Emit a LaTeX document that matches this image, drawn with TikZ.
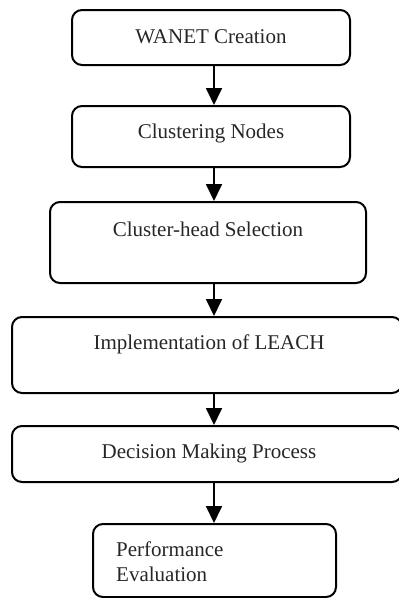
\documentclass[tikz,border=0pt]{standalone}
\usepackage{fontspec}
\setmainfont{Liberation Serif}
\usepackage{tikz}
\usetikzlibrary{arrows.meta,calc}
\tikzstyle{bx}=[rectangle,rounded corners=10pt,draw=black,line width=2pt,
  inner sep=0pt]
\tikzstyle{txt}=[inner sep=0pt,font=\fontsize{21}{25}\selectfont,text=black!85]
\tikzstyle{flow}=[line width=1.8pt,-{Triangle[length=17pt,width=16pt]}]
\tikzstyle{none}=[]

\begin{document}
\begin{tikzpicture}[x=1pt,y=-1pt]
            \clip (0,0) rectangle (399,598);
            \node [style=bx,minimum width=278pt,minimum height=55pt] (0) at (211, 37.5) {};
            \node [style=bx,minimum width=278pt,minimum height=61pt] (1) at (211, 136.5) {};
            \node [style=bx,minimum width=316pt,minimum height=81pt] (2) at (208, 242.5) {};
            \node [style=bx,minimum width=390pt,minimum height=76pt] (3) at (207, 355) {};
            \node [style=bx,minimum width=390pt,minimum height=56pt] (4) at (207, 454) {};
            \node [style=bx,minimum width=243pt,minimum height=73pt] (5) at (214.5, 560.5) {};
            \node [style=txt] (6) at (211, 37) {WANET Creation};
            \node [style=txt] (7) at (211, 133) {Clustering Nodes};
            \node [style=txt] (8) at (208, 229) {Cluster-head Selection};
            \node [style=txt] (9) at (209, 344) {Implementation of LEACH};
            \node [style=txt] (10) at (209, 453) {Decision Making Process};
            \node [style=txt,align=left,anchor=west] (11) at (116, 562) {Performance\\Evaluation};
            \coordinate (12) at (214, 0);
            \draw [style=flow] (0.south -| 12) to (1.north -| 12);
            \draw [style=flow] (1.south -| 12) to (2.north -| 12);
            \draw [style=flow] (2.south -| 12) to (3.north -| 12);
            \draw [style=flow] (3.south -| 12) to (4.north -| 12);
            \draw [style=flow] (4.south -| 12) to (5.north -| 12);
    \end{tikzpicture}
\end{document}
